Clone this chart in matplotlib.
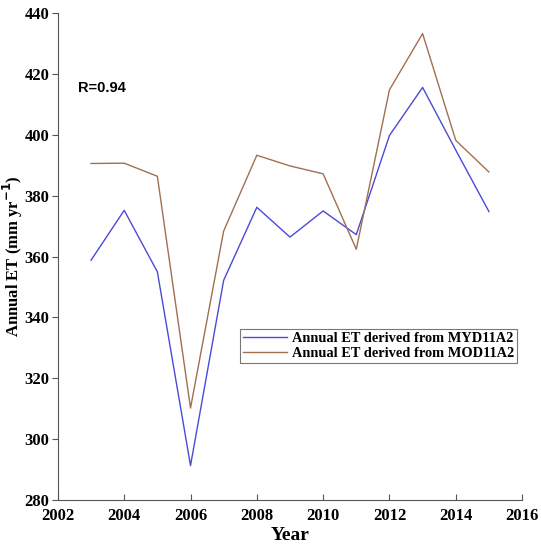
import matplotlib
matplotlib.use("Agg")
import matplotlib.pyplot as plt

years = [2003, 2004, 2005, 2006, 2007, 2008, 2009, 2010, 2011, 2012, 2013, 2014, 2015]
et_myd = [358.8, 375.2, 355.0, 291.3, 352.2, 376.2, 366.4, 375.0, 367.2, 399.8, 415.6, 395.0, 374.8]
et_mod = [390.6, 390.7, 386.4, 310.2, 368.4, 393.3, 389.8, 387.2, 362.4, 414.8, 433.3, 398.2, 387.8]

BLUE = "#4a4ad8"
BROWN = "#a07050"
SPINE = "#555555"

fig = plt.figure(figsize=(5.41, 5.50), dpi=100)
ax = fig.add_axes([0.107, 0.091, 0.858, 0.885])

ax.plot(years, et_myd, color=BLUE, linewidth=1.0, label="Annual ET derived from MYD11A2")
ax.plot(years, et_mod, color=BROWN, linewidth=1.0, label="Annual ET derived from MOD11A2")

ax.set_xlim(2002, 2016)
ax.set_ylim(280, 440)
ax.set_xticks(range(2002, 2017, 2))
ax.set_yticks(range(280, 441, 20))

for side in ("top", "right"):
    ax.spines[side].set_visible(False)
for side in ("left", "bottom"):
    ax.spines[side].set_color(SPINE)
    ax.spines[side].set_linewidth(0.8)

serif_bold = {"family": "Liberation Serif", "weight": "bold"}
ax.tick_params(axis="x", direction="in", length=4, color=SPINE, pad=6)
ax.tick_params(axis="y", direction="out", length=4, color=SPINE, pad=2)
for lbl in ax.get_xticklabels() + ax.get_yticklabels():
    lbl.set_fontfamily("Liberation Serif")
    lbl.set_fontweight("bold")
    lbl.set_fontsize(12)

ax.set_xlabel("Year", fontdict=serif_bold, fontsize=14, labelpad=2)
ax.set_ylabel(r"Annual ET (mm yr$^{\mathbf{-1}}$)", fontdict=serif_bold, fontsize=12)
ax.yaxis.set_label_coords(-0.070, 0.5)

ax.text(2002.6, 415.4, "R=0.94", fontfamily="Liberation Sans", fontweight="bold", fontsize=10.5,
        ha="left", va="center")

leg = ax.legend(loc="lower right", bbox_to_anchor=(0.99, 0.282),
                prop={"family": "Liberation Serif", "weight": "bold", "size": 10.4},
                frameon=True, fancybox=False, borderpad=0.2, labelspacing=0.1,
                handlelength=3.0, handletextpad=0.4, borderaxespad=0)
leg.get_frame().set_edgecolor(SPINE)
leg.get_frame().set_linewidth(0.8)

fig.savefig("out.png", dpi=100)
